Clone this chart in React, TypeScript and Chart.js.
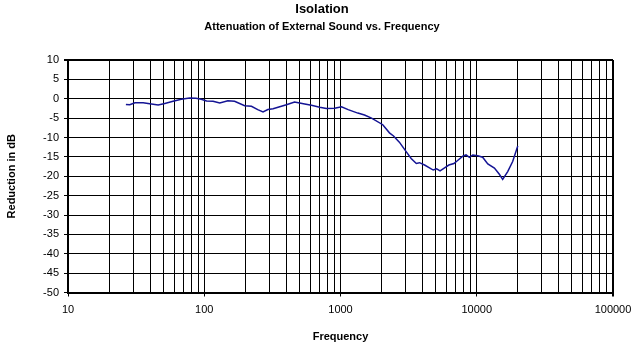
import React, { useEffect, useRef } from "react";
import { Chart, registerables } from "chart.js";

Chart.register(...registerables);

const FONT = "'Liberation Sans', Arial, Helvetica, sans-serif";

// Frequency (Hz)
const freqHz = [
  26.6, 28.4, 31, 35.6, 39.8, 45.9, 51.4, 59, 67.8, 78, 87, 95, 104, 116, 130,
  149, 167, 198, 222, 247, 270, 293, 320, 348, 401, 460, 501, 546, 612, 704,
  787, 907, 1017, 1138, 1340, 1500, 1690, 2043, 2287, 2450, 2704, 3042, 3300,
  3600, 3800, 4140, 4790, 5080, 5380, 5880, 6240, 6800, 7200, 7900, 8350, 8830,
  9350, 10170, 11050, 12050, 13480, 14650, 15500, 16870, 18350, 20000,
];

// Reduction in dB at each frequency
const reductionDb = [
  -1.5, -1.55, -1.03, -1.03, -1.3, -1.62, -1.2, -0.67, -0.15, 0.18, 0.1, -0.15,
  -0.6, -0.65, -1.1, -0.52, -0.67, -1.8, -1.96, -2.8, -3.4, -2.8, -2.6, -2.2,
  -1.55, -0.85, -1.1, -1.37, -1.7, -2.2, -2.5, -2.45, -2.1, -2.8, -3.7, -4.2,
  -5.0, -6.7, -8.8, -9.6, -11.2, -13.7, -15.4, -16.7, -16.5, -17.1, -18.4,
  -18.1, -18.6, -17.7, -17.1, -16.7, -16.0, -14.8, -14.5, -15.1, -14.5, -14.7,
  -15.1, -16.8, -17.9, -19.5, -20.8, -18.8, -16.2, -12.2,
];

// X axis tick positions (log grid) and Y axis range
const xTickValues = [
  10, 20, 30, 40, 50, 60, 70, 80, 90,
  100, 200, 300, 400, 500, 600, 700, 800, 900,
  1000, 2000, 3000, 4000, 5000, 6000, 7000, 8000, 9000,
  10000, 20000, 30000, 40000, 50000, 60000, 70000, 80000, 90000,
  100000,
];
const yMin = -50;
const yMax = 10;
const yStep = 5;

const titleText = "Isolation";
const subtitleText = "Attenuation of External Sound vs. Frequency";
const xTitle = "Frequency";
const yTitle = "Reduction in dB";

const isDecade = (v: number) => {
  const l = Math.log10(v);
  return Math.abs(l - Math.round(l)) < 1e-9;
};

export default function App() {
  const ref = useRef<HTMLCanvasElement>(null);

  useEffect(() => {
    if (!ref.current) return;
    Chart.defaults.font.family = FONT;
    const chart = new Chart(ref.current, {
      type: "line",
      data: {
        datasets: [
          {
            data: freqHz.map((f, i) => ({ x: f, y: reductionDb[i] })),
            borderColor: "#141494",
            borderWidth: 1.5,
            pointRadius: 0,
            tension: 0,
            fill: false,
          },
        ],
      },
      options: {
        responsive: false,
        animation: false,
        devicePixelRatio: 1,
        layout: { padding: 0 },
        plugins: {
          legend: { display: false },
          tooltip: { enabled: false },
          title: {
            display: true,
            text: titleText,
            color: "#000",
            font: { family: FONT, size: 13, weight: "bold" },
            padding: { top: 2, bottom: 2 },
          },
          subtitle: {
            display: true,
            text: subtitleText,
            color: "#000",
            font: { family: FONT, size: 11, weight: "bold" },
            padding: { top: 1, bottom: 26.2 },
          },
        },
        scales: {
          x: {
            type: "logarithmic",
            min: 10,
            max: 100000,
            afterBuildTicks: (s: any) => {
              s.ticks = xTickValues.map((v) => ({ value: v }));
            },
            afterFit: (s: any) => {
              s.height = 56.5;
              s.paddingRight = 31;
            },
            ticks: {
              autoSkip: false,
              maxRotation: 0,
              minRotation: 0,
              padding: 7,
              color: "#000",
              font: { family: FONT, size: 11 },
              callback: (v: any) => (isDecade(Number(v)) ? String(v) : ""),
            },
            grid: {
              color: "#000",
              lineWidth: (ctx: any) =>
                ctx.tick && ctx.tick.value === 100000 ? 2 : 1,
              tickLength: 4,
              tickColor: (ctx: any) =>
                ctx.tick && isDecade(ctx.tick.value) ? "#000" : "rgba(0,0,0,0)",
            },
            border: { display: true, color: "#000", width: 2 },
            title: {
              display: true,
              text: xTitle,
              color: "#000",
              font: { family: FONT, size: 11, weight: "bold" },
              padding: { top: 0, bottom: 5 },
            },
          },
          y: {
            min: yMin,
            max: yMax,
            afterFit: (s: any) => {
              s.width = 68;
            },
            ticks: {
              stepSize: yStep,
              padding: 5,
              color: "#000",
              font: { family: FONT, size: 11 },
            },
            grid: {
              color: "#000",
              lineWidth: (ctx: any) =>
                ctx.tick && ctx.tick.value === yMax ? 2 : 1,
              tickLength: 4,
              tickColor: "#000",
            },
            border: { display: true, color: "#000", width: 2 },
            title: {
              display: true,
              text: yTitle,
              color: "#000",
              font: { family: FONT, size: 11, weight: "bold" },
              padding: { top: 5, bottom: 0 },
            },
          },
        },
      },
    });
    return () => chart.destroy();
  }, []);

  return (
    <div style={{ position: "fixed", left: 0, top: 0, width: 644, height: 349, background: "#fff" }}>
      <canvas ref={ref} width={644} height={349} style={{ display: "block" }} />
    </div>
  );
}
